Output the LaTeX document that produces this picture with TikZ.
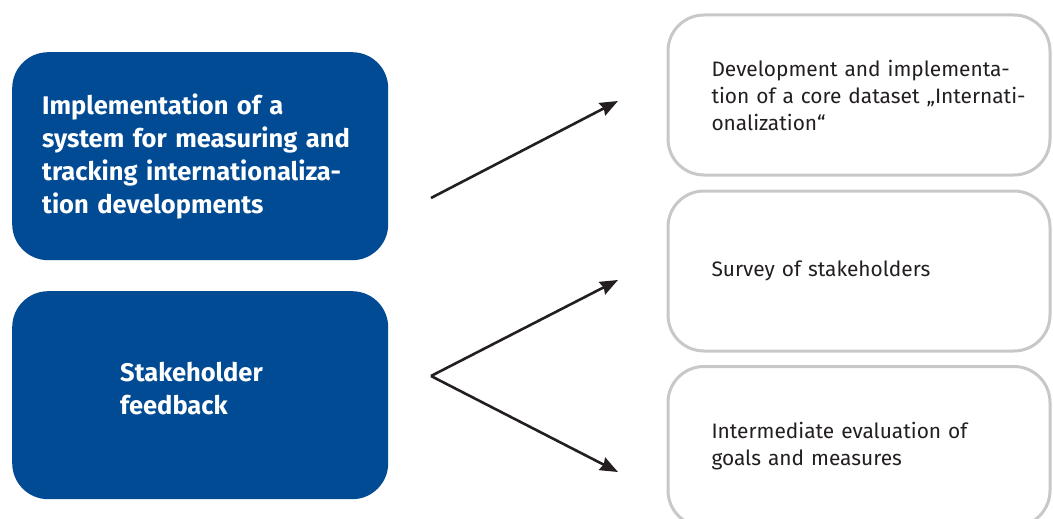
\documentclass[tikz,border=0pt]{standalone}
\usepackage{fontspec}
\setmainfont{Fira Sans}
\usepackage{tikz}
\usetikzlibrary{arrows.meta}
\usetikzlibrary{positioning}
\definecolor{uniblue}{RGB}{0,75,147}
\definecolor{boxgray}{RGB}{200,200,200}
\definecolor{inkgray}{RGB}{35,31,32}

\begin{document}
\begin{tikzpicture}[x=1pt,y=-1pt,>={Stealth[length=18pt,width=14pt,inset=2pt]},
	goal/.style={rectangle,rounded corners=36pt,fill=uniblue,text=white,
		font=\fontsize{25.5}{33}\selectfont\bfseries,align=left,
		minimum width=376pt,minimum height=208pt,anchor=north west},
	task/.style={rectangle,rounded corners=36pt,draw=boxgray,line width=3pt,
		fill=white,text=inkgray,font=\fontsize{20.9}{27}\selectfont,align=left,
		inner xsep=43.5pt,text width=295pt,minimum height=160pt,anchor=north west},
	link/.style={->,line width=2.6pt,draw=inkgray}]
	\useasboundingbox (0,0) rectangle (1053,519);
	% left column
	\node[goal,inner xsep=30pt,text width=316pt] (impl) at (12,52)
		{\mbox{Implementation of a}\\\mbox{system for measuring and}\\
		 \mbox{tracking internationaliza-}\\\mbox{tion developments}};
	\node[goal,inner xsep=108pt,text width=160pt,text depth=46pt] (feedback) at (12,291)
		{\mbox{Stakeholder}\\\mbox{feedback}};
	% right column
	\node[task] (dataset) at (666.5,13.5)
		{\mbox{Development and implementa-}\\\mbox{tion of a core dataset „Internati-}\\
		 \mbox{onalization“}};
	\node[task] (survey) at (666.5,189.5) {Survey of stakeholders};
	\node[task] (evaluation) at (666.5,365) {Intermediate evaluation of\\goals and measures};
	% arrows
	\coordinate (fork1) at (431,198);
	\coordinate (fork2) at (431,376);
	\coordinate (tip1) at (618,101);
	\coordinate (tip2) at (618,280);
	\coordinate (tip3) at (618,472);
	\draw[link] (fork1) -- (tip1);
	\draw[link] (fork2) -- (tip2);
	\draw[link] (fork2) -- (tip3);
\end{tikzpicture}
\end{document}
